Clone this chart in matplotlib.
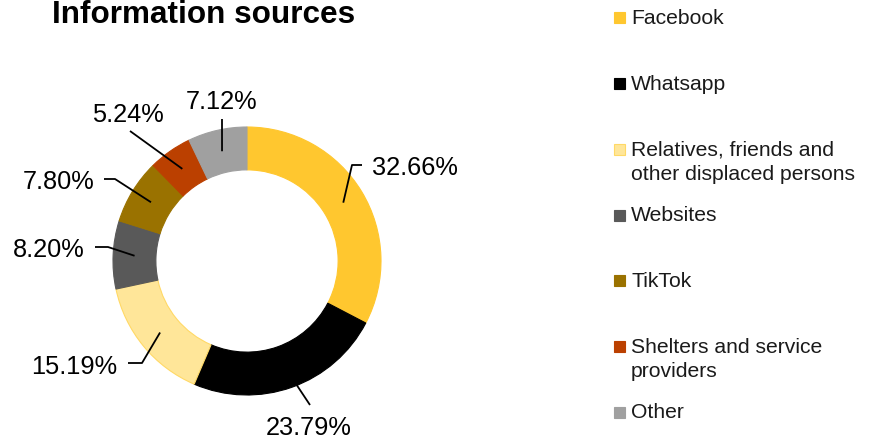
import matplotlib
matplotlib.use("Agg")
import matplotlib.pyplot as plt
import numpy as np

plt.rcParams['font.family'] = ['Liberation Sans', 'DejaVu Sans']

title = "Information sources"
categories = ["Facebook", "Whatsapp", "Relatives, friends and\nother displaced persons",
              "Websites", "TikTok", "Shelters and service\nproviders", "Other"]
values = [32.66, 23.79, 15.19, 8.20, 7.80, 5.24, 7.12]
colors = ["#FFC72F", "#000000", "#FFE699", "#595959", "#9A7200", "#BB4000", "#A0A0A0"]
edgecolors = ["#FFC72F", "#000000", "#FFD966", "#595959", "#9A7200", "#BB4000", "#A0A0A0"]

W, H = 874, 440
fig = plt.figure(figsize=(W / 100, H / 100), dpi=100)

# pie axes: data units where 1 = outer radius (134 px), centre at pixel (247, 261)
R_PX = 134.0
CX, CY = 247.0, 261.0
AX_W = 590
ax = fig.add_axes([0, 0, AX_W / W, 1])

def px(x, y):
    return ((x - CX) / R_PX, (CY - y) / R_PX)

width = 0.32
wedges, _ = ax.pie(values, colors=colors, startangle=90, counterclock=False,
                   radius=1.0, center=(0, 0), frame=True,
                   wedgeprops=dict(width=width, linewidth=0.8))
for w, ec in zip(wedges, edgecolors):
    w.set_edgecolor(ec)
ax.set_xlim(-CX / R_PX, (AX_W - CX) / R_PX)
ax.set_ylim(-(H - CY) / R_PX, CY / R_PX)
ax.set_aspect("auto")
ax.axis("off")

# label layout (pixel positions): leader-line waypoints, text anchor, ha
label_layout = [
    ([(352, 165), (362, 165)], (372, 175), "left"),
    ([(310, 405)], (309, 435), "center"),
    ([(142, 363), (128, 363)], (117, 374), "right"),
    ([(108, 247), (95, 247)], (85, 257), "right"),
    ([(115, 179), (104, 179)], (94, 189), "right"),
    ([(130, 131)], (128, 122), "center"),
    ([(222, 119)], (222, 109), "center"),
]

total = sum(values)
ang = 90.0
r_mid = 1.0 - width / 2
for v, (pts, tpos, ha) in zip(values, label_layout):
    span = 360.0 * v / total
    mid = np.deg2rad(ang - span / 2)
    ang -= span
    xs = [r_mid * np.cos(mid)] + [px(*p)[0] for p in pts]
    ys = [r_mid * np.sin(mid)] + [px(*p)[1] for p in pts]
    ax.plot(xs, ys, color="black", lw=1.3, solid_capstyle="butt")
    tx, ty = px(*tpos)
    ax.text(tx, ty, f"{v:.2f}%", ha=ha, va="baseline", fontsize=18.3, color="black")

# title
fig.text(52 / W, 1 - 23 / H, title, ha="left", va="baseline",
         fontsize=22.7, fontweight="bold", color="black")

# legend (manual, Excel-like even spacing)
sq = 11
for i, (cat, col, ec) in enumerate(zip(categories, colors, edgecolors)):
    base = 24 + i * 65.7
    cy = base - 6
    rect = plt.Rectangle((614 / W, 1 - (cy + sq / 2) / H), sq / W, sq / H,
                         transform=fig.transFigure, facecolor=col, edgecolor=ec,
                         linewidth=0.8)
    fig.patches.append(rect)
    for k, line in enumerate(cat.split("\n")):
        fig.text(631 / W, 1 - (base + k * 24.5) / H, line, ha="left", va="baseline",
                 fontsize=15.2, color="#1a1a1a")

fig.savefig("out.png", dpi=100)
